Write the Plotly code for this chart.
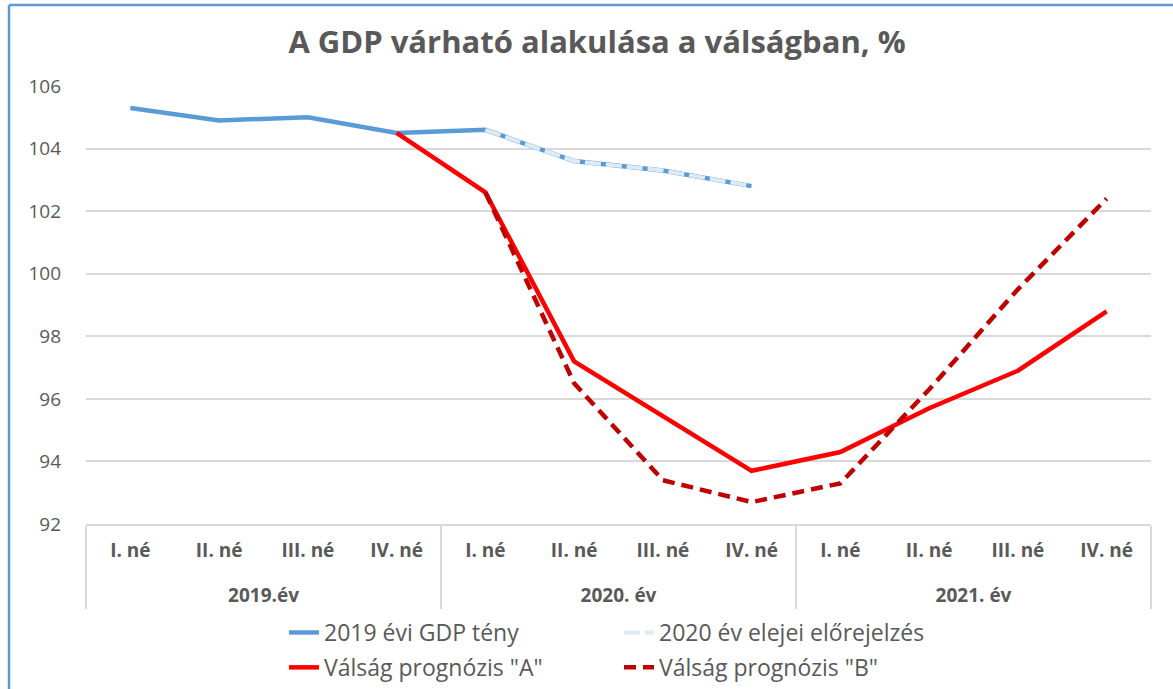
import plotly.graph_objects as go

years = ["<br>2019.év"] * 4 + ["<br>2020. év"] * 4 + ["<br>2021. év"] * 4
quarters = ["I. né", "II. né", "III. né", "IV. né"] * 3

gdp_2019 = [105.3, 104.9, 105.0, 104.5, 104.6, 103.6, 103.3, 102.8, None, None, None, None]
forecast_2020 = [None, None, None, None, 104.6, 103.6, 103.3, 102.8, None, None, None, None]
crisis_a = [None, None, None, 104.5, 102.6, 97.2, 95.45, 93.7, 94.3, 95.7, 96.9, 98.8]
crisis_b = [None, None, None, None, 102.6, 96.5, 93.4, 92.7, 93.3, 96.3, 99.5, 102.4]

names = ["2019 évi GDP tény", "2020 év elejei előrejelzés",
         'Válság prognózis "A"', 'Válság prognózis "B"']

FONT = "Open Sans"
GRAY = "#595959"

fig = go.Figure()
x = [years, quarters]
fig.add_trace(go.Scatter(x=x, y=gdp_2019, mode="lines", name=names[0],
                         line=dict(color="#5B9BD5", width=4.5),
                         legend="legend", legendgroup="a"))
fig.add_trace(go.Scatter(x=x, y=forecast_2020, mode="lines", name=names[1],
                         line=dict(color="#DEEBF7", width=4, dash="16px,5px"),
                         legend="legend2", legendgroup="b"))
fig.add_trace(go.Scatter(x=x, y=crisis_a, mode="lines", name=names[2],
                         line=dict(color="#FF0000", width=4.5),
                         legend="legend", legendgroup="c"))
fig.add_trace(go.Scatter(x=x, y=crisis_b, mode="lines", name=names[3],
                         line=dict(color="#C00000", width=4.5, dash="12px,7px"),
                         legend="legend2", legendgroup="d"))

L, R, T, B = 86, 22, 86, 165
W, H = 1173, 689
pw = W - L - R
ph = H - T - B

def px_x(p):
    return (p - L) / pw

def px_y(p):
    return (H - B - p) / ph

border = "#5B9BD5"
fig.add_shape(type="line", xref="paper", yref="paper",
              x0=px_x(9), x1=px_x(9), y0=px_y(5), y1=px_y(720),
              line=dict(color=border, width=2.5))
fig.add_shape(type="line", xref="paper", yref="paper",
              x0=px_x(9), x1=px_x(1200), y0=px_y(5), y1=px_y(5),
              line=dict(color=border, width=2.5))

legend_common = dict(orientation="v", yanchor="top", xanchor="left",
                     xref="container", yref="container",
                     font=dict(family=FONT, size=23, color=GRAY),
                     bgcolor="rgba(0,0,0,0)", tracegroupgap=2)

fig.update_layout(
    width=W, height=H,
    margin=dict(l=L, r=R, t=T, b=B, autoexpand=False),
    paper_bgcolor="white", plot_bgcolor="white",
    title=dict(text="<b>A GDP várható alakulása a válságban, %</b>",
               x=597 / W, xanchor="center", y=1 - 42 / H, yanchor="middle",
               font=dict(family=FONT, size=31, color=GRAY)),
    font=dict(family=FONT, color=GRAY),
    legend=dict(x=284 / W, y=1 - 611 / H, **legend_common),
    legend2=dict(x=619 / W, y=1 - 611 / H, **legend_common),
    xaxis=dict(type="multicategory", range=[-0.5, 11.5], showgrid=False,
               showline=True, linecolor="#D9D9D9", linewidth=2,
               showdividers=True, dividercolor="#D9D9D9", dividerwidth=2,
               ticks="", ticklabelstandoff=8,
               automargin=False,
               tickfont=dict(family=FONT, size=19, color=GRAY, weight="bold")),
    yaxis=dict(range=[92, 106], dtick=2, showgrid=True, gridcolor="#D9D9D9",
               gridwidth=2, zeroline=False, showline=False,
               ticklabelstandoff=24, automargin=False,
               tickfont=dict(family=FONT, size=19, color=GRAY)),
)

fig.write_html("out.html", config={"displayModeBar": False},
               post_script="document.body.style.margin='0px';")
